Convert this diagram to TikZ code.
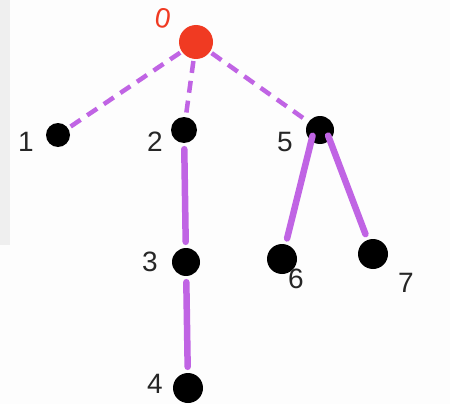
\documentclass[tikz,border=0pt]{standalone}
\usepackage{fontspec}
\setmainfont{Liberation Sans}
\definecolor{rootred}{HTML}{F03A22}
\definecolor{linkviolet}{HTML}{C064E4}
\definecolor{paper}{HTML}{FDFDFD}
\definecolor{strip}{HTML}{EFEFEF}
\tikzset{
  vertex/.style={circle, fill=black, inner sep=0pt, minimum size=#1},
  vertex/.default=26pt,
  rootvertex/.style={circle, fill=rootred, inner sep=0pt, minimum size=34pt},
  tag/.style={font=\fontsize{28}{28}\selectfont, text=black!85, inner sep=0pt},
  dashlink/.style={draw=linkviolet, line width=4.5pt, dash pattern=on 12pt off 8pt, shorten <=2pt, shorten >=1pt},
  solidlink/.style={draw=linkviolet, line width=6.5pt, line cap=round, shorten <=6pt, shorten >=6pt}
}
\begin{document}
\begin{tikzpicture}[x=1pt, y=-1pt]
  \fill[paper] (0,0) rectangle (450,404);
  \fill[strip] (0,0) rectangle (10,245);
  \useasboundingbox (0,0) rectangle (450,404);

  % vertices
  \node[rootvertex] (n0) at (196,42) {};
  \node[vertex=24pt] (n1) at (58,135) {};
  \node[vertex] (n2) at (184,130) {};
  \node[vertex=28pt] (n5) at (320,130) {};
  \node[vertex=28pt] (n3) at (186,262) {};
  \node[vertex=30pt] (n6) at (282,259) {};
  \node[vertex=30pt] (n7) at (373,254) {};
  \node[vertex=30pt] (n4) at (188,388) {};

  % labels
  \node[tag, text=rootred, rotate=-10] (l0) at (163,18) {0};
  \node[tag] (l1) at (26,142) {1};
  \node[tag] (l2) at (155,142) {2};
  \node[tag] (l5) at (285,142) {5};
  \node[tag] (l3) at (150,262) {3};
  \node[tag] (l6) at (296,279) {6};
  \node[tag] (l7) at (406,283) {7};
  \node[tag] (l4) at (155,384) {4};

  % links
  \draw[dashlink] (n0) -- (n1);
  \draw[dashlink] (n0) -- (n2);
  \draw[dashlink] (n0) -- (n5);
  \draw[solidlink] (n2) -- (n3);
  \draw[solidlink] (n3) -- (n4);
  \draw[solidlink] ([xshift=-6pt]n5.center) -- (n6);
  \draw[solidlink] ([xshift=6pt]n5.center) -- (n7);
\end{tikzpicture}
\end{document}
